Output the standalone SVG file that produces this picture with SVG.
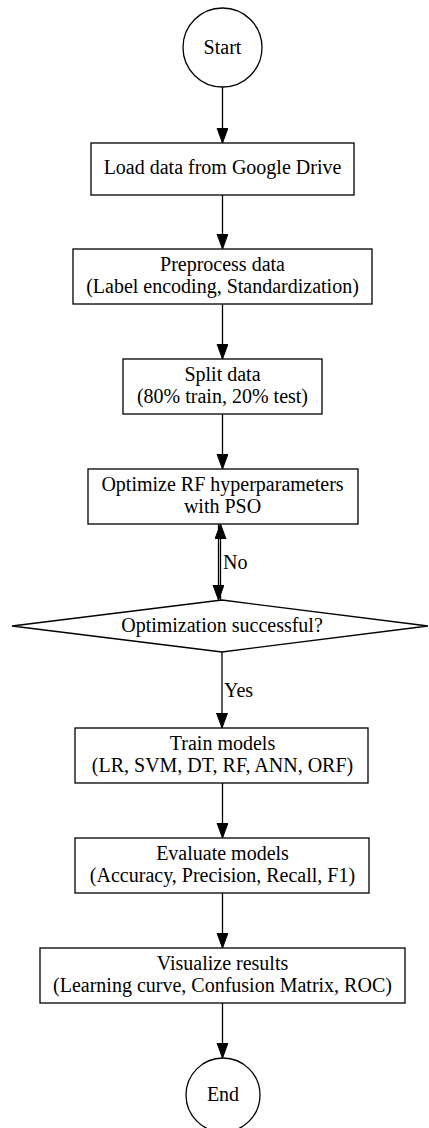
<svg xmlns="http://www.w3.org/2000/svg" width="429" height="1128" viewBox="0 0 429 1128">
<style>
.n{fill:#fff;stroke:#000;stroke-width:1.3}
.e{fill:none;stroke:#000;stroke-width:1.3}
</style>
<defs>
<marker id="ah" markerUnits="userSpaceOnUse" markerWidth="16" markerHeight="12" refX="15" refY="5.5" orient="auto">
<path d="M0,0 L15,5.5 L0,11 z" fill="#000" stroke="#000" stroke-width="1"/>
</marker>
</defs>
<rect width="429" height="1128" fill="#fff"/>
<g id="edges">
<path class="e" d="M222.5,87 L222.5,143" marker-end="url(#ah)"/>
<path class="e" d="M222.5,195 L222.5,249" marker-end="url(#ah)"/>
<path class="e" d="M222.5,304 L222.5,359" marker-end="url(#ah)"/>
<path class="e" d="M222.5,414 L222.5,469" marker-end="url(#ah)"/>
<path class="e" d="M218.5,524 L218.5,600" marker-end="url(#ah)"/>
<path class="e" d="M220.5,600 L220.5,524" marker-end="url(#ah)"/>
<path class="e" d="M222,652 L222,728" marker-end="url(#ah)"/>
<path class="e" d="M222.5,783 L222.5,838" marker-end="url(#ah)"/>
<path class="e" d="M222.5,893 L222.5,948" marker-end="url(#ah)"/>
<path class="e" d="M222.5,1003 L222.5,1058" marker-end="url(#ah)"/>
<g font-family="Liberation Serif, Times New Roman, Times, serif" font-size="20" fill="#000">
<text x="223" y="569">No</text>
<text x="224" y="697">Yes</text>
</g>
</g>
<g font-family="Liberation Serif, Times New Roman, Times, serif" font-size="20" fill="#000" text-anchor="middle">
<g id="start">
<circle class="n" cx="222.5" cy="47.5" r="39.5"/>
<text x="222.5" y="54">Start</text>
</g>
<g id="load">
<rect class="n" x="91" y="143" width="263" height="52"/>
<text x="222.5" y="174">Load data from Google Drive</text>
</g>
<g id="preprocess">
<rect class="n" x="73" y="249" width="299" height="55"/>
<text x="222.5" y="271">Preprocess data</text>
<text x="222.5" y="292.5">(Label encoding, Standardization)</text>
</g>
<g id="split">
<rect class="n" x="123" y="359" width="199" height="55"/>
<text x="222.5" y="381">Split data</text>
<text x="222.5" y="402.5">(80% train, 20% test)</text>
</g>
<g id="optimize">
<rect class="n" x="88" y="469" width="270" height="55"/>
<text x="222.5" y="491">Optimize RF hyperparameters</text>
<text x="222.5" y="512.5">with PSO</text>
</g>
<g id="decision">
<polygon class="n" points="222,600 428,626 222,652 12,626"/>
<text x="222" y="632">Optimization successful?</text>
</g>
<g id="train">
<rect class="n" x="75" y="728" width="293" height="55"/>
<text x="222.5" y="750">Train models</text>
<text x="222.5" y="771.5">(LR, SVM, DT, RF, ANN, ORF)</text>
</g>
<g id="evaluate">
<rect class="n" x="75" y="838" width="294" height="55"/>
<text x="222.5" y="860">Evaluate models</text>
<text x="222.5" y="881.5">(Accuracy, Precision, Recall, F1)</text>
</g>
<g id="visualize">
<rect class="n" x="40" y="948" width="365" height="55"/>
<text x="222.5" y="970">Visualize results</text>
<text x="222.5" y="991.5">(Learning curve, Confusion Matrix, ROC)</text>
</g>
<g id="end">
<circle class="n" cx="223" cy="1095" r="37"/>
<text x="223" y="1101">End</text>
</g>
</g>
</svg>
